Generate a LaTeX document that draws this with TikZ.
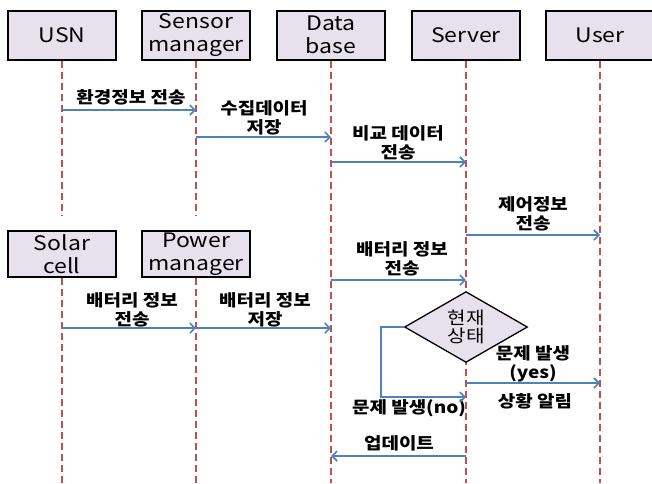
\documentclass[tikz,border=0pt]{standalone}
\usepackage{fontspec}
\setmainfont{Noto Sans CJK KR}
\newfontfamily\widefont[FakeStretch=1.15]{Noto Sans CJK KR}
\usetikzlibrary{arrows.meta,positioning,shapes.geometric}
\definecolor{lifered}{RGB}{192,80,77}
\definecolor{msgblue}{RGB}{79,129,189}
\definecolor{boxlav}{RGB}{231,225,237}

\begin{document}
\begin{tikzpicture}[x=1pt, y=-1pt,
  actor/.style={rectangle, draw=black, line width=2pt, fill=boxlav, align=center,
    minimum width=108pt, minimum height=49pt, inner sep=0pt, font=\widefont\fontsize{20}{23}\selectfont},
  lowactor/.style={actor, minimum height=46pt},
  decide/.style={diamond, draw=black, line width=1.3pt, fill=boxlav, align=center,
    minimum width=123pt, minimum height=63pt, inner sep=0pt, font=\widefont\fontsize{17.5}{18}\selectfont},
  life/.style={draw=lifered, line width=1.8pt, dash pattern=on 7pt off 4pt},
  msg/.style={-{Straight Barb[length=5pt,width=10pt]}, draw=msgblue, line width=1.6pt},
  lbl/.style={font=\widefont\bfseries\fontsize{16.5}{19}\selectfont, align=center}
]
\useasboundingbox (0,0) rectangle (652,483);
\coordinate (bottom) at (0,483);

% participants
\node[actor] (usn) at (62,35) {USN};
\node[actor] (sensor) at (196,35) {Sensor\\manager};
\node[actor] (db) at (331,35) {Data\\base};
\node[actor] (server) at (466,35) {Server};
\node[actor] (user) at (600,35) {User};
\node[lowactor] (solar) at (62,254) {Solar\\cell};
\node[lowactor] (power) at (196,254) {Power\\manager};

% lifelines
\draw[life] (usn.south) -- ([yshift=15pt]solar.north);
\draw[life] (sensor.south) -- ([yshift=15pt]power.north);
\draw[life] (solar.south) -- (solar.south |- bottom);
\draw[life] (power.south) -- (power.south |- bottom);
\draw[life] (db.south) -- (db.south |- bottom);
\draw[life] (server.south) -- (server.south |- bottom);
\draw[life] (user.south) -- (user.south |- bottom);

\node[decide] (state) at (466,327) {현재\\상태};

% labels
\node[lbl] (envlbl) at (131,97) {환경정보 전송};
\node[lbl] (storelbl) at (264,117.5) {수집데이터\\저장};
\node[lbl] (cmplbl) at (398,142.5) {비교 데이터\\전송};
\node[lbl] (ctrllbl) at (533,214) {제어정보\\전송};
\node[lbl] (battlbl) at (402,259) {배터리 정보\\전송};
\node[lbl] (solarlbl) at (132,309.5) {배터리 정보\\전송};
\node[lbl] (powerlbl) at (265,309.5) {배터리 정보\\저장};
\node[lbl] (nolbl) at (409,408) {문제 발생(no)};
\node[lbl] (yeslbl) at (533,364) {문제 발생\\(yes)};
\node[lbl] (alertlbl) at (535,401) {상황 알림};
\node[lbl] (updlbl) at (399,443) {업데이트};

% messages
\draw[msg] (usn.south |- 0,110) -- (sensor.south |- 0,110);
\draw[msg] (sensor.south |- 0,137) -- (db.south |- 0,137);
\draw[msg] (db.south |- 0,162) -- (server.south |- 0,162);
\draw[msg] (server.south |- 0,235) -- (user.south |- 0,235);
\draw[msg] (db.south |- 0,280) -- (server.south |- 0,280);
\draw[msg] (solar.south |- 0,328) -- (power.south |- 0,328);
\draw[msg] (power.south |- 0,328) -- (db.south |- 0,328);
\draw[msg] (state.west) -- ++(-23,0) |- (server.south |- 0,397);
\draw[msg] (server.south |- 0,383) -- (user.south |- 0,383);
\draw[msg] (server.south |- 0,456) -- (db.south |- 0,456);

\end{tikzpicture}
\end{document}
